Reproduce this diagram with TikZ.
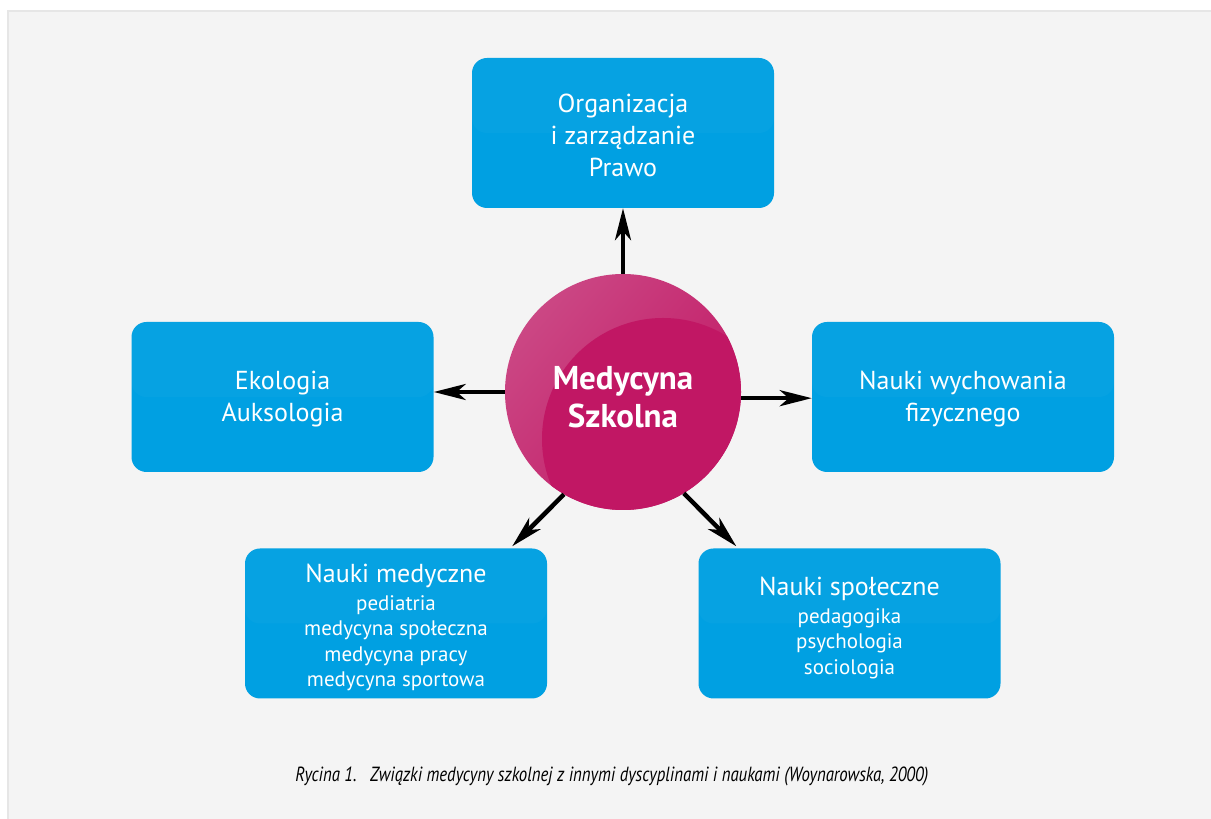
\documentclass[tikz,border=0pt]{standalone}
\usepackage{fontspec}
\setmainfont{PT Sans}
\newfontfamily\capfont[FakeStretch=0.82]{PT Sans}
\usetikzlibrary{arrows.meta,calc}
\definecolor{boxblue}{HTML}{00A0E2}
\definecolor{medpink}{HTML}{C11764}
\definecolor{medlight}{HTML}{CB4784}
\definecolor{panelgray}{HTML}{F4F4F4}
\definecolor{panelshadow}{HTML}{E6E6E6}
\newcommand{\subfield}{\fontsize{21}{25.5}\selectfont}

\begin{document}
\begin{tikzpicture}[x=1pt,y=1pt,
    fieldbox/.style={rectangle, rounded corners=15pt, fill=boxblue,
      minimum width=302pt, minimum height=150pt, inner sep=0pt,
      path picture={\fill[white,opacity=0.025] (path picture bounding box.north west)
        rectangle (path picture bounding box.east);}},
    fieldtext/.style={text=white, align=center, inner sep=0pt,
      font=\fontsize{26}{32}\selectfont},
    link/.style={line width=4.5pt, -{Stealth[length=32pt,width=16pt,inset=9pt]}}]
  % page and panel
  \fill[white] (0,0) rectangle (1211,819);
  \useasboundingbox (0,0) rectangle (1211,819);
  \fill[panelshadow] (7,0) rectangle (1211,809);
  \fill[panelgray] (9,0) rectangle (1211,807);

  % the five fields
  \node[fieldbox] (org) at (623,686) {};
  \node[fieldbox] (eko) at (282.5,422) {};
  \node[fieldbox] (wych) at (963,422) {};
  \node[fieldbox] (med) at (396,195.5) {};
  \node[fieldbox] (spol) at (849.5,195.5) {};
  \node[fieldtext] (orgtxt) at ($(org)+(0,-2)$) {Organizacja\\ i zarządzanie\\ Prawo};
  \node[fieldtext] (ekotxt) at ($(eko)+(0,-2)$) {Ekologia\\ Auksologia};
  \node[fieldtext] (wychtxt) at ($(wych)+(0,-2)$) {Nauki wychowania\\ fizycznego};
  \node[fieldtext] (medtxt) at ($(med)+(0,-4)$) {Nauki medyczne\\[-4pt]
    \subfield pediatria\\[-6.5pt] \subfield medycyna społeczna\\[-6.5pt]
    \subfield medycyna pracy\\[-6.5pt] \subfield medycyna sportowa};
  \node[fieldtext] (spoltxt) at ($(spol)+(0,-4)$) {Nauki społeczne\\[-4pt]
    \subfield pedagogika\\[-6.5pt] \subfield psychologia\\[-6.5pt]
    \subfield sociologia};

  % centre ball
  \coordinate (mc) at (623,427);
  \begin{scope}
    \clip (mc) circle (118);
    \shade[top color=medlight, middle color=medpink, bottom color=medpink,
      shading angle=50] (mc) circle (118);
    \fill[medpink] ($(mc)+(40,-47)$) circle (121);
  \end{scope}
  \node[circle, minimum size=236pt, inner sep=0pt] (ms) at (mc) {};
  \node[text=white, align=center, font=\fontsize{33}{38}\selectfont\bfseries]
    (mstxt) at ($(mc)+(0,-5)$) {Medycyna\\ Szkolna};

  % arrows
  \coordinate (medin) at ($(med.north east)+(-35,2)$);
  \coordinate (spolin) at ($(spol.north west)+(38,2)$);
  \draw[link] (ms.north) -- (org.south);
  \draw[link] (ms.west) -- (ms.west -| eko.east);
  \draw[link] (ms.-3) -- (ms.-3 -| wych.west);
  \draw[link] (ms.240) -- (medin);
  \draw[link] (ms.-59) -- (spolin);

  % caption
  \node[anchor=base east, inner sep=0pt, font=\capfont\itshape\fontsize{20.5}{24}\selectfont]
    (ryc) at (357,37) {Rycina 1.};
  \node[anchor=base west, inner sep=0pt, font=\capfont\itshape\fontsize{20.5}{24}\selectfont]
    (opis) at (370,37) {Związki medycyny szkolnej z innymi dyscyplinami i naukami (Woynarowska, 2000)};
\end{tikzpicture}
\end{document}
